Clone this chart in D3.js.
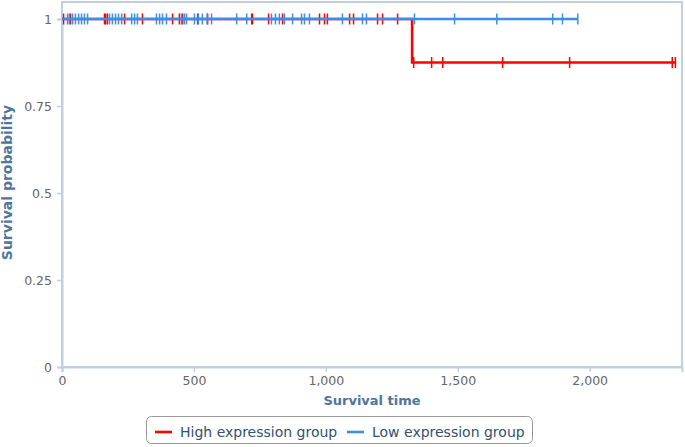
<!DOCTYPE html>
<html><head><meta charset="utf-8">
<script src="https://cdn.jsdelivr.net/npm/d3@7"></script>
<style>
body{margin:0;background:#fff;}
svg{display:block;font-family:"DejaVu Sans",sans-serif;}
</style></head>
<body><svg id="c" width="685" height="447"></svg>
<script>
// ---- data ----
const seriesNames = ["High expression group", "Low expression group"];
const highEvents = [1327];
const highCensored = [6, 32, 161, 165, 172, 237, 305, 419, 445, 457, 514, 552, 719, 722, 783, 836, 976, 995, 1006, 1090, 1105, 1196, 1215, 1272,
  1333, 1401, 1443, 1670, 1924, 2313, 2325];
const lowEvents = [];
const lowCensored = [21, 28, 40, 51, 63, 74, 85, 97, 180, 191, 203, 214, 226, 264, 275, 286, 358, 370, 381, 396, 453, 464, 472, 502, 517, 532, 550, 567,
  662, 700, 794, 809, 824, 843, 874, 908, 919, 938, 1063, 1139, 1154, 1336, 1488, 1648, 1860, 1897, 1955];
const xTicks = [0, 500, 1000, 1500, 2000];
const yTicks = [0, 0.25, 0.5, 0.75, 1];
const colors = ["#ff0000", "#3d8ee3"];

// ---- Kaplan-Meier ----
function km(events, censored) {
  const all = events.map(t => ({t, e: 1})).concat(censored.map(t => ({t, e: 0})))
    .sort((a, b) => a.t - b.t || b.e - a.e);
  let n = all.length, s = 1;
  const steps = [{t: 0, s: 1}];
  const marks = [];
  let i = 0;
  while (i < all.length) {
    const t = all[i].t;
    let d = 0, c = 0;
    while (i < all.length && all[i].t === t) { if (all[i].e) d++; else c++; i++; }
    if (d > 0) { s = s * (1 - d / n); steps.push({t, s}); }
    for (let k = 0; k < c; k++) marks.push({t, s});
    n -= d + c;
  }
  steps.push({t: all[all.length - 1].t, s});
  return {steps, marks};
}
const groups = [km(highEvents, highCensored), km(lowEvents, lowCensored)];

// ---- layout ----
const svg = d3.select("#c");
const L = 62, R = 682, T = 2, B = 367;
const x = d3.scaleLinear().domain([0, 2350]).range([L, R]);
const y = d3.scaleLinear().domain([0, 1]).range([B, 19]);
const axisCol = "#c0d0e0";

// plot border
svg.append("rect").attr("x", L).attr("y", T).attr("width", R - L).attr("height", B - T)
  .attr("fill", "none").attr("stroke", axisCol).attr("stroke-width", 2);

// axes
const xAxis = svg.append("g").attr("transform", `translate(0,${B})`)
  .call(d3.axisBottom(x).tickValues(xTicks).tickSize(5).tickPadding(4).tickFormat(d3.format(",")));
const yAxis = svg.append("g").attr("transform", `translate(${L},0)`)
  .call(d3.axisLeft(y).tickValues(yTicks).tickSize(5).tickPadding(5).tickFormat(d => String(d)));
[xAxis, yAxis].forEach(g => {
  g.select(".domain").attr("stroke", axisCol).attr("stroke-width", 2);
  g.selectAll(".tick line").attr("stroke", axisCol).attr("stroke-width", 1.5);
  g.selectAll(".tick text").attr("fill", "#666").attr("font-size", 12.5).attr("font-family", "DejaVu Sans");
});

// series
const line = d3.line().x(d => x(d.t)).y(d => y(d.s)).curve(d3.curveStepAfter);
groups.forEach((g, i) => {
  svg.append("path").datum(g.steps).attr("d", line)
    .attr("fill", "none").attr("stroke", colors[i]).attr("stroke-width", 2.6);
  svg.append("g").selectAll("line").data(g.marks).join("line")
    .attr("x1", d => x(d.t)).attr("x2", d => x(d.t))
    .attr("y1", d => y(d.s) - 5.5).attr("y2", d => y(d.s) + 5.5)
    .attr("stroke", colors[i]).attr("stroke-width", 1.5);
});

// axis titles
svg.append("text").attr("x", (L + R) / 2).attr("y", 405).attr("text-anchor", "middle")
  .attr("font-size", 13).attr("font-weight", "bold").attr("fill", "#4d759e").text("Survival time");
svg.append("text").attr("transform", `translate(12,${(T + B) / 2 - 2}) rotate(-90)`).attr("text-anchor", "middle")
  .attr("font-size", 14).attr("font-weight", "bold").attr("fill", "#4d759e").text("Survival probability");

// legend
const lg = svg.append("g");
lg.append("rect").attr("x", 146.5).attr("y", 416.5).attr("width", 386).attr("height", 27).attr("rx", 5)
  .attr("fill", "#fff").attr("stroke", "#999");
const itemX = [155, 347];
seriesNames.forEach((name, i) => {
  lg.append("line").attr("x1", itemX[i]).attr("x2", itemX[i] + 17).attr("y1", 432).attr("y2", 432)
    .attr("stroke", colors[i]).attr("stroke-width", 2.6);
  lg.append("text").attr("x", itemX[i] + 25).attr("y", 437).attr("font-size", 14)
    .attr("fill", "#34506b").text(name);
});
</script></body></html>
